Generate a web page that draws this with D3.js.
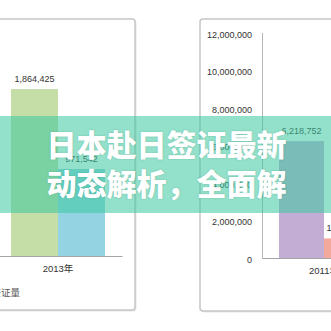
<!DOCTYPE html>
<html><head><meta charset="utf-8">
<script src="https://cdn.jsdelivr.net/npm/d3@7/dist/d3.min.js"></script>
<style>
html,body{margin:0;padding:0;background:#fff;}
svg{display:block;}
</style></head>
<body>
<svg id="c" width="331" height="331"></svg>
<script>
// ---- data ----
const leftCategories = ["2013年"];
const leftSeries = ["s1", "s2"];
const leftValues = [1864425, 971542];
const leftColors = ["#c5dda6", "#94d4e2"];
const leftLegend = "签证量";

const rightCategories = ["2011年"];
const rightSeries = ["s1", "s2"];
const rightValues = [6218752, 1043000];
const rightColors = ["#c3add4", "#f3a99b"];
const rightTicks = [0, 2000000, 4000000, 6000000, 8000000, 10000000, 12000000];

const bannerLines = ["日本赴日签证最新", "动态解析，全面解"];

// ---- drawing ----
const svg = d3.select("#c");
const fmt = d3.format(",");
const txtFont = "'Liberation Sans', 'Noto Sans CJK SC', sans-serif";

// panels (with faint shadow)
function panel(x, y, w, h) {
  svg.append("rect").attr("x", x + 1.5).attr("y", y + 1.5).attr("width", w).attr("height", h)
    .attr("rx", 3).attr("fill", "#e6e6e6");
  svg.append("rect").attr("x", x).attr("y", y).attr("width", w).attr("height", h)
    .attr("rx", 3).attr("fill", "#fff").attr("stroke", "#c6c6c6").attr("stroke-width", 1.5);
}
panel(-10, 19, 145, 291);
panel(200, 19, 160, 292);

// ---- left chart ----
const lBase = 256;
const ly = d3.scaleLinear().domain([0, 2000000]).range([lBase, lBase - 179.1]);
const lx0 = d3.scaleBand().domain(leftCategories).range([-6, 122]).paddingInner(0).paddingOuter(0.181);
const lx1 = d3.scaleBand().domain(leftSeries).range([0, lx0.bandwidth()]);
const lg = svg.append("g");
leftCategories.forEach(cat => {
  leftSeries.forEach((s, i) => {
    const v = leftValues[i];
    const x = lx0(cat) + lx1(s);
    lg.append("rect").attr("x", x).attr("y", ly(v)).attr("width", lx1.bandwidth())
      .attr("height", lBase - ly(v)).attr("fill", leftColors[i]);
    lg.append("text").attr("x", x + lx1.bandwidth() / 2).attr("y", ly(v) - 7)
      .attr("text-anchor", "middle").attr("font-family", txtFont).attr("font-size", 9)
      .attr("fill", "#333").text(fmt(v));
  });
});
const lAxis = svg.append("g").attr("transform", `translate(0,${lBase})`)
  .call(d3.axisBottom(lx0).tickSize(0).tickPadding(9));
lAxis.select(".domain").attr("stroke", "#a6a6a6").attr("stroke-width", 1);
lAxis.selectAll("text").attr("font-family", txtFont).attr("font-size", 9.5).attr("fill", "#333");
svg.append("text").attr("x", 20).attr("y", 296).attr("text-anchor", "end")
  .attr("font-family", "'Noto Sans CJK SC', sans-serif").attr("font-size", 9.5).attr("fill", "#555")
  .text(leftLegend);

// ---- right chart ----
const rBase = 258;
const ry = d3.scaleLinear().domain([0, 12000000]).range([rBase, 32.5]);
const rx0 = d3.scaleBand().domain(rightCategories).range([262, 386]).paddingInner(0).paddingOuter(0.189);
const rx1 = d3.scaleBand().domain(rightSeries).range([0, rx0.bandwidth()]);
const rg = svg.append("g");
rightCategories.forEach(cat => {
  rightSeries.forEach((s, i) => {
    const v = rightValues[i];
    const x = rx0(cat) + rx1(s);
    rg.append("rect").attr("x", x).attr("y", ry(v)).attr("width", rx1.bandwidth())
      .attr("height", rBase - ry(v)).attr("fill", rightColors[i]);
    rg.append("text").attr("x", x + rx1.bandwidth() / 2).attr("y", ry(v) - 7)
      .attr("text-anchor", "middle").attr("font-family", txtFont).attr("font-size", 9)
      .attr("fill", "#333").text(fmt(v));
  });
});
const yAx = svg.append("g").attr("transform", "translate(262,0)")
  .call(d3.axisLeft(ry).tickValues(rightTicks).tickFormat(fmt).tickSize(0).tickPadding(10));
yAx.select(".domain").attr("stroke", "#b5b5b5").attr("stroke-width", 1);
yAx.selectAll("text").attr("font-family", txtFont).attr("font-size", 9).attr("fill", "#333")
  .attr("dy", "0.5em");
const rAxis = svg.append("g").attr("transform", `translate(0,${rBase})`)
  .call(d3.axisBottom(rx0).tickSize(0).tickPadding(9));
rAxis.select(".domain").attr("stroke", "#a6a6a6").attr("stroke-width", 1);
rAxis.selectAll("text").attr("font-family", txtFont).attr("font-size", 9.5).attr("fill", "#333");

// ---- banner ----
svg.append("rect").attr("x", 0).attr("y", 116).attr("width", 331).attr("height", 97)
  .attr("fill", "#3cc8a0").attr("fill-opacity", 0.55);
const bt = svg.append("g");
bannerLines.forEach((t, i) => {
  bt.append("text").attr("x", 166.5).attr("y", 156 + i * 39)
    .attr("text-anchor", "middle")
    .attr("font-family", "'Noto Sans CJK SC', sans-serif").attr("font-weight", 900)
    .attr("font-size", 30).attr("fill", "#fff")
    .style("text-shadow", "0 0 2px rgba(0,80,60,0.25)")
    .text(t);
});
</script>
</body></html>
